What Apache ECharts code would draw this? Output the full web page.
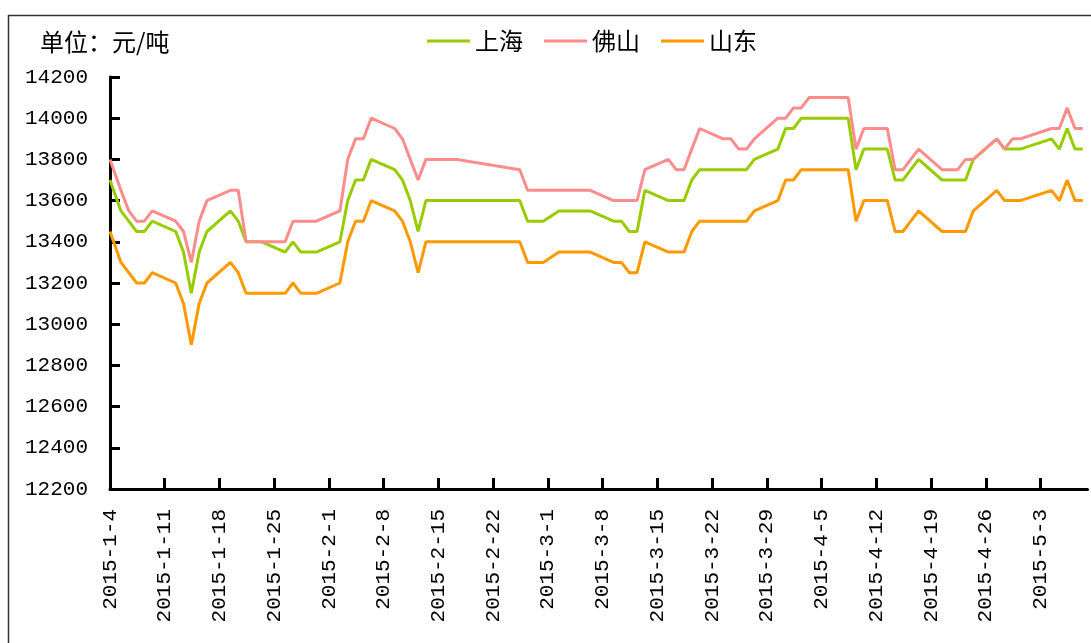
<!doctype html>
<html lang="zh">
<head>
    <meta charset="UTF-8">
    <title>价格走势</title>
    <script type="text/javascript" src="https://cdn.jsdelivr.net/npm/echarts@6/dist/echarts.min.js"></script>
    <style>
        html, body { margin: 0; padding: 0; background: #fff; }
    </style>
</head>
<body>
<div id="main" style="width: 1091px;height:643px;"></div>
<script type="text/javascript">
    // 日期(工作日)
    var dates = [
        '2015-1-4', '2015-1-5', '2015-1-6', '2015-1-7', '2015-1-8', '2015-1-9',
        '2015-1-12', '2015-1-13', '2015-1-14', '2015-1-15', '2015-1-16',
        '2015-1-19', '2015-1-20', '2015-1-21', '2015-1-22', '2015-1-23',
        '2015-1-26', '2015-1-27', '2015-1-28', '2015-1-29', '2015-1-30',
        '2015-2-2', '2015-2-3', '2015-2-4', '2015-2-5', '2015-2-6',
        '2015-2-9', '2015-2-10', '2015-2-11', '2015-2-12', '2015-2-13',
        '2015-2-15', '2015-2-16', '2015-2-17',
        '2015-2-25', '2015-2-26', '2015-2-27', '2015-2-28',
        '2015-3-2', '2015-3-3', '2015-3-4', '2015-3-5', '2015-3-6',
        '2015-3-9', '2015-3-10', '2015-3-11', '2015-3-12', '2015-3-13',
        '2015-3-16', '2015-3-17', '2015-3-18', '2015-3-19', '2015-3-20',
        '2015-3-23', '2015-3-24', '2015-3-25', '2015-3-26', '2015-3-27',
        '2015-3-30', '2015-3-31', '2015-4-1', '2015-4-2', '2015-4-3',
        '2015-4-7', '2015-4-8', '2015-4-9', '2015-4-10',
        '2015-4-13', '2015-4-14', '2015-4-15', '2015-4-16', '2015-4-17',
        '2015-4-20', '2015-4-21', '2015-4-22', '2015-4-23', '2015-4-24',
        '2015-4-27', '2015-4-28', '2015-4-29', '2015-4-30',
        '2015-5-4', '2015-5-5', '2015-5-6', '2015-5-7', '2015-5-8'
    ];

    // 上海
    var shanghai = [
        13700, 13550, 13500, 13450, 13450, 13500,
        13450, 13350, 13150, 13350, 13450,
        13550, 13500, 13400, 13400, 13400,
        13350, 13400, 13350, 13350, 13350,
        13400, 13600, 13700, 13700, 13800,
        13750, 13700, 13600, 13450, 13600,
        13600, 13600, 13600,
        13600, 13500, 13500, 13500,
        13550, 13550, 13550, 13550, 13550,
        13500, 13500, 13450, 13450, 13650,
        13600, 13600, 13600, 13700, 13750,
        13750, 13750, 13750, 13750, 13800,
        13850, 13950, 13950, 14000, 14000,
        14000, 14000, 13750, 13850,
        13850, 13700, 13700, 13750, 13800,
        13700, 13700, 13700, 13700, 13800,
        13900, 13850, 13850, 13850,
        13900, 13850, 13950, 13850, 13850
    ];

    // 佛山
    var foshan = [
        13800, 13650, 13550, 13500, 13500, 13550,
        13500, 13450, 13300, 13500, 13600,
        13650, 13650, 13400, 13400, 13400,
        13400, 13500, 13500, 13500, 13500,
        13550, 13800, 13900, 13900, 14000,
        13950, 13900, 13800, 13700, 13800,
        13800, 13800, 13800,
        13750, 13650, 13650, 13650,
        13650, 13650, 13650, 13650, 13650,
        13600, 13600, 13600, 13600, 13750,
        13800, 13750, 13750, 13850, 13950,
        13900, 13900, 13850, 13850, 13900,
        14000, 14000, 14050, 14050, 14100,
        14100, 14100, 13850, 13950,
        13950, 13750, 13750, 13800, 13850,
        13750, 13750, 13750, 13800, 13800,
        13900, 13850, 13900, 13900,
        13950, 13950, 14050, 13950, 13950
    ];

    // 山东
    var shandong = [
        13450, 13300, 13250, 13200, 13200, 13250,
        13200, 13100, 12900, 13100, 13200,
        13300, 13250, 13150, 13150, 13150,
        13150, 13200, 13150, 13150, 13150,
        13200, 13400, 13500, 13500, 13600,
        13550, 13500, 13400, 13250, 13400,
        13400, 13400, 13400,
        13400, 13300, 13300, 13300,
        13350, 13350, 13350, 13350, 13350,
        13300, 13300, 13250, 13250, 13400,
        13350, 13350, 13350, 13450, 13500,
        13500, 13500, 13500, 13500, 13550,
        13600, 13700, 13700, 13750, 13750,
        13750, 13750, 13500, 13600,
        13600, 13450, 13450, 13500, 13550,
        13450, 13450, 13450, 13450, 13550,
        13650, 13600, 13600, 13600,
        13650, 13600, 13700, 13600, 13600
    ];

    var yTicks = [12200, 14200, 200];   // 最小, 最大, 间隔
    var xStart = '2015-1-4';
    var xEnd = '2015-5-9';

    var DAY = 86400000;
    var SLOT = 0.4;   // 点落在当天的格子里,略偏右
    function toDay(s) {
        var p = s.split('-');
        return Date.UTC(+p[0], +p[1] - 1, +p[2]);
    }
    var base = toDay(xStart);
    function dayIndex(s) {
        return Math.round((toDay(s) - base) / DAY);
    }
    function dayLabel(v) {
        var d = new Date(base + v * DAY);
        return d.getUTCFullYear() + '-' + (d.getUTCMonth() + 1) + '-' + d.getUTCDate();
    }
    function pairs(vals) {
        var out = [];
        for (var i = 0; i < dates.length; i++) {
            var d = dayIndex(dates[i]);
            out.push([d === 0 ? 0 : d + SLOT, vals[i]]);
        }
        return out;
    }
    // 每周一个刻度
    var xMax = dayIndex(xEnd);
    var weekTicks = [];
    for (var w = 0; w < xMax; w += 7) {
        weekTicks.push(w);
    }

    var numFont = 'Liberation Mono';
    var cjkFont = 'Noto Sans CJK SC';

    var myChart = echarts.init(document.getElementById('main'));
    myChart.setOption({
        animation: false,
        backgroundColor: '#fff',
        title: {
            text: '单位：元/吨',
            left: 35,
            top: 25,
            textStyle: {
                fontFamily: cjkFont,
                fontSize: 24,
                fontWeight: 'normal',
                color: '#000'
            }
        },
        legend: {
            left: 422,
            top: 24,
            icon: 'rect',
            itemWidth: 43,
            itemHeight: 3,
            itemGap: 21,
            textStyle: {
                fontFamily: cjkFont,
                fontSize: 24,
                color: '#000'
            },
            data: ['上海', '佛山', '山东']
        },
        graphic: [{
            type: 'rect',
            shape: {x: 8.5, y: 15.5, width: 1200, height: 1000},
            style: {fill: 'none', stroke: '#333', lineWidth: 1.5},
            silent: true
        }],
        grid: {
            left: 110,
            right: 3.5,
            top: 77,
            bottom: 154
        },
        xAxis: {
            type: 'value',
            min: 0,
            max: xMax,
            interval: 7,
            axisLine: {show: true, lineStyle: {color: '#000', width: 3}},
            axisTick: {
                show: true,
                inside: true,
                length: 11,
                customValues: weekTicks,
                lineStyle: {color: '#000', width: 3}
            },
            axisLabel: {
                rotate: 90,
                margin: 20,
                customValues: weekTicks,
                fontFamily: numFont,
                fontSize: 21,
                color: '#000',
                formatter: function (v) {
                    return dayLabel(v);
                }
            },
            splitLine: {show: false}
        },
        yAxis: {
            type: 'value',
            min: yTicks[0],
            max: yTicks[1],
            interval: yTicks[2],
            axisLine: {show: true, lineStyle: {color: '#000', width: 3}},
            axisTick: {
                show: true,
                inside: true,
                length: 10,
                lineStyle: {color: '#000', width: 3}
            },
            axisLabel: {
                margin: 22,
                fontFamily: numFont,
                fontSize: 21,
                color: '#000',
                formatter: function (v) {
                    return String(v);
                }
            },
            splitLine: {show: false}
        },
        series: [
            {
                name: '上海',
                type: 'line',
                showSymbol: false,
                color: '#99CC00',
                lineStyle: {width: 3},
                data: pairs(shanghai)
            },
            {
                name: '佛山',
                type: 'line',
                showSymbol: false,
                color: '#FF8C8C',
                lineStyle: {width: 3},
                data: pairs(foshan)
            },
            {
                name: '山东',
                type: 'line',
                showSymbol: false,
                color: '#FF9900',
                lineStyle: {width: 3},
                data: pairs(shandong)
            }
        ]
    });
</script>
</body>
</html>
